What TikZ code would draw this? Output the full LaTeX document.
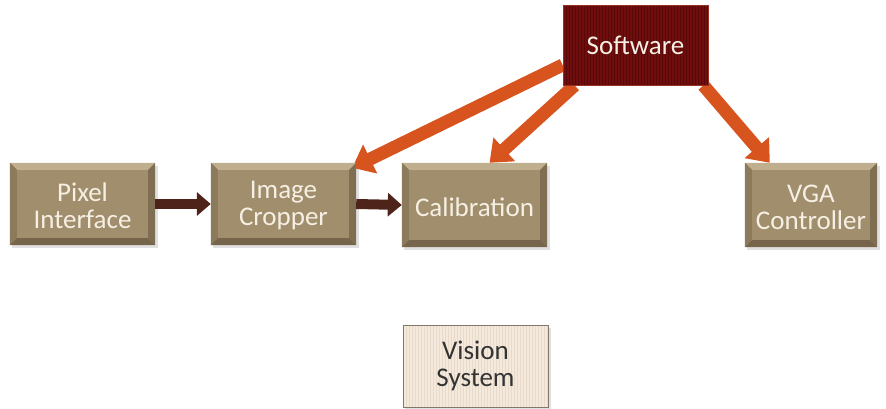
\documentclass[tikz,border=0pt]{standalone}
\usepackage{fontspec}
\setmainfont{Carlito}
\usetikzlibrary{arrows.meta,backgrounds}
\definecolor{boxfill}{RGB}{161,142,109}
\definecolor{bevtop}{RGB}{192,175,143}
\definecolor{bevleft}{RGB}{140,122,92}
\definecolor{bevright}{RGB}{128,110,82}
\definecolor{bevbot}{RGB}{118,101,75}
\definecolor{boxtext}{RGB}{246,240,228}
\definecolor{swred}{RGB}{112,14,14}
\definecolor{swstripe}{RGB}{88,8,8}
\definecolor{swedge}{RGB}{150,50,35}
\definecolor{visfill}{RGB}{244,233,220}
\definecolor{visstripe}{RGB}{232,218,200}
\definecolor{visedge}{RGB}{130,120,105}
\definecolor{orangearr}{RGB}{215,84,30}
\definecolor{darkarr}{RGB}{78,36,26}
\tikzset{
  txtfont/.style={font=\fontsize{27}{27}\selectfont},
  blk/.style={fill=boxfill, minimum width=145pt, minimum height=82pt, inner sep=0pt,
    text=boxtext, align=center, txtfont},
  swbox/.style={fill=swred, draw=swedge, line width=0.8pt, minimum width=145pt, minimum height=80pt,
    inner sep=0pt, text=boxtext, txtfont,
    path picture={\foreach \i in {1,...,48}{\draw[swstripe, line width=0.7pt]
      ([xshift=\i*3pt]path picture bounding box.south west) -- ([xshift=\i*3pt]path picture bounding box.north west);}}},
  visbox/.style={fill=visfill, draw=visedge, line width=0.8pt, minimum width=145pt, minimum height=82pt,
    inner sep=0pt, text=black!80, align=center, txtfont,
    path picture={\foreach \i in {1,...,48}{\draw[visstripe, line width=0.6pt]
      ([xshift=\i*3pt]path picture bounding box.south west) -- ([xshift=\i*3pt]path picture bounding box.north west);}}},
  shadow/.style={fill=black, opacity=0.12},
  orarrow/.style={draw=orangearr, line width=13pt, -{Triangle[length=20pt,width=31pt]}},
  dkarrow/.style={draw=darkarr, line width=10pt, -{Triangle[length=14pt,width=23pt]}},
}
\newcommand\bevelbox[1]{%
  \fill[bevtop] (#1.north west) -- (#1.north east) -- ([xshift=-7pt,yshift=-7pt]#1.north east) -- ([xshift=7pt,yshift=-7pt]#1.north west) -- cycle;
  \fill[bevleft] (#1.north west) -- ([xshift=7pt,yshift=-7pt]#1.north west) -- ([xshift=7pt,yshift=7pt]#1.south west) -- (#1.south west) -- cycle;
  \fill[bevright] (#1.north east) -- ([xshift=-7pt,yshift=-7pt]#1.north east) -- ([xshift=-7pt,yshift=7pt]#1.south east) -- (#1.south east) -- cycle;
  \fill[bevbot] (#1.south west) -- ([xshift=7pt,yshift=7pt]#1.south west) -- ([xshift=-7pt,yshift=7pt]#1.south east) -- (#1.south east) -- cycle;
  \node[text=boxtext, align=center, txtfont] at ([yshift=-2pt]#1.center) {\csname txt#1\endcsname};
}
\newcommand\txtpix{Pixel\\Interface}
\newcommand\txtimg{Image\\Cropper}
\newcommand\txtcal{Calibration}
\newcommand\txtvga{VGA\\Controller}
\begin{document}
\begin{tikzpicture}[x=1pt,y=-1pt]
\useasboundingbox (0,0) rectangle (886,409);
\node[blk] (pix) at (82.5,204) {};
\node[blk] (img) at (283.5,204) {};
\node[blk, minimum height=84pt] (cal) at (474.5,205) {};
\node[blk, minimum width=132pt, minimum height=84pt] (vga) at (811,205) {};
\node[swbox] (sw) at (635.5,45) {Software};
\node[visbox] (vis) at (475.5,366) {Vision\\System};
\bevelbox{pix}
\bevelbox{img}
\bevelbox{cal}
\bevelbox{vga}
\begin{scope}[on background layer]
  \foreach \n in {pix,img,cal,vga,vis}{
    \fill[shadow] ([xshift=2pt,yshift=-3pt]\n.north west) rectangle ([xshift=3pt,yshift=-3pt]\n.south east);
  }
  \draw[orarrow] ([yshift=-20pt]sw.west) -- ([xshift=-4pt,yshift=-5pt]img.north east);
  \draw[orarrow] ([xshift=12pt]sw.south west) -- ([xshift=15pt]cal.north);
  \draw[orarrow] ([xshift=-5pt]sw.south east) -- ([xshift=25pt]vga.north west);
\end{scope}
\draw[dkarrow] (pix.east) -- (img.west);
\draw[dkarrow] (img.east) -- (cal.west);
\end{tikzpicture}
\end{document}
